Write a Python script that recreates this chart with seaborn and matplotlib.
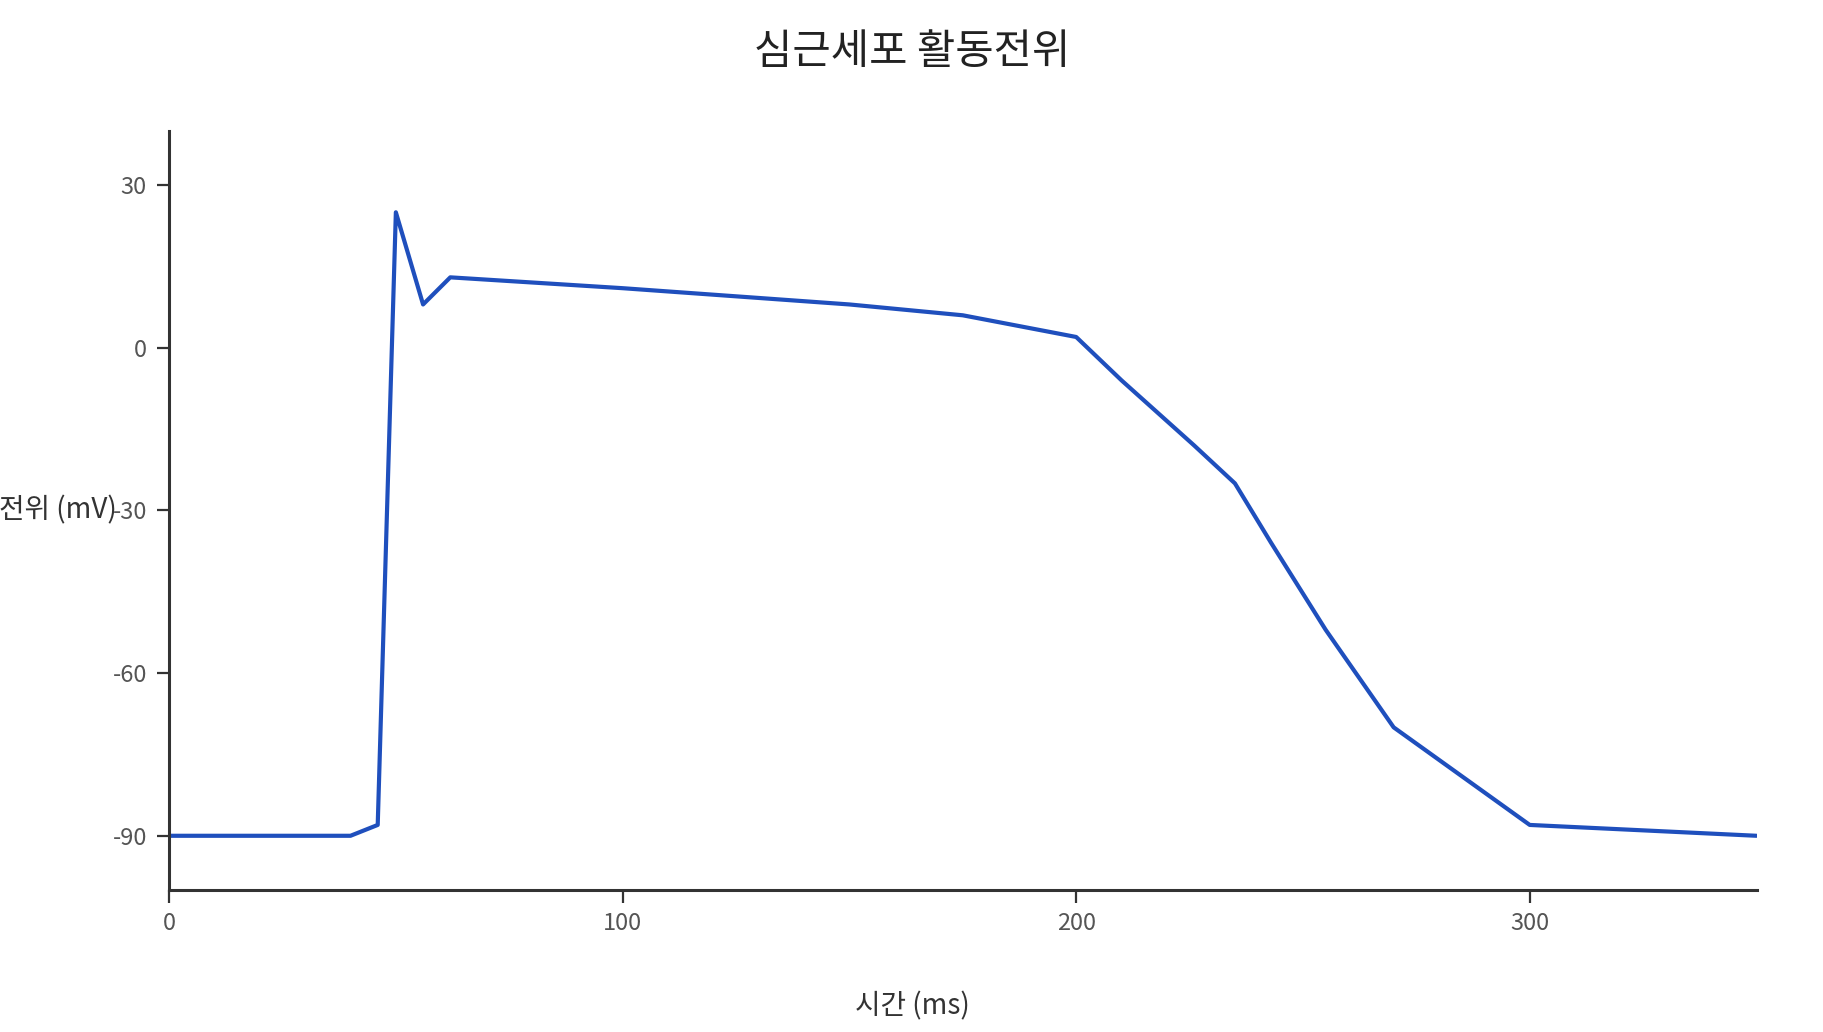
import matplotlib
matplotlib.use('Agg')
from matplotlib import pyplot as plt
import pandas as pd
import seaborn as sns

# action potential trace
time_ms = [0, 40, 46, 50, 56, 62, 100, 150, 175, 200, 210, 226, 235, 243, 255, 270, 285, 300, 350]
voltage_mv = [-90, -90, -88, 25, 8, 13, 11, 8, 6, 2, -6, -18, -25, -36, -52, -70, -79, -88, -90]
x_ticks = [0, 100, 200, 300]
y_ticks = [-90, -60, -30, 0, 30]

sns.set_theme(style='ticks')
plt.rcParams['font.family'] = ['Noto Sans CJK KR', 'DejaVu Sans']
plt.rcParams['axes.unicode_minus'] = False

df = pd.DataFrame({'t': time_ms, 'v': voltage_mv})

fig = plt.figure(figsize=(9.12, 5.16), dpi=200)
ax = fig.add_axes([0.0927, 0.1376, 0.8703, 0.7355])

sns.lineplot(data=df, x='t', y='v', ax=ax, color='#1f4fbd', linewidth=1.5, sort=False)

ax.set_xlim(0, 350)
ax.set_ylim(-100, 40)
ax.set_xticks(x_ticks)
ax.set_yticks(y_ticks)
ax.set_xticklabels([str(t) for t in x_ticks])
ax.set_yticklabels([str(t) for t in y_ticks])

sns.despine(ax=ax)
for side in ['left', 'bottom']:
    ax.spines[side].set_color('#333333')
    ax.spines[side].set_linewidth(1.1)
ax.tick_params(axis='both', colors='#555555', labelsize=8.5, length=4.5, width=0.8)
ax.tick_params(axis='both', color='#333333')

# x label sits at the figure centre, not the axes centre
ax.set_xlabel('시간 (ms)', fontsize=10, color='#333333', va='center')
ax.xaxis.set_label_coords(0.5, 0.025, transform=fig.transFigure)
ax.set_ylabel('전위 (mV)', fontsize=10, color='#333333', rotation=0, ha='right', va='center')
ax.yaxis.set_label_coords(-0.033, 0.5)

fig.suptitle('심근세포 활동전위', fontsize=15, color='#222222', y=0.949, va='center')

fig.savefig('out.png', dpi=200)
